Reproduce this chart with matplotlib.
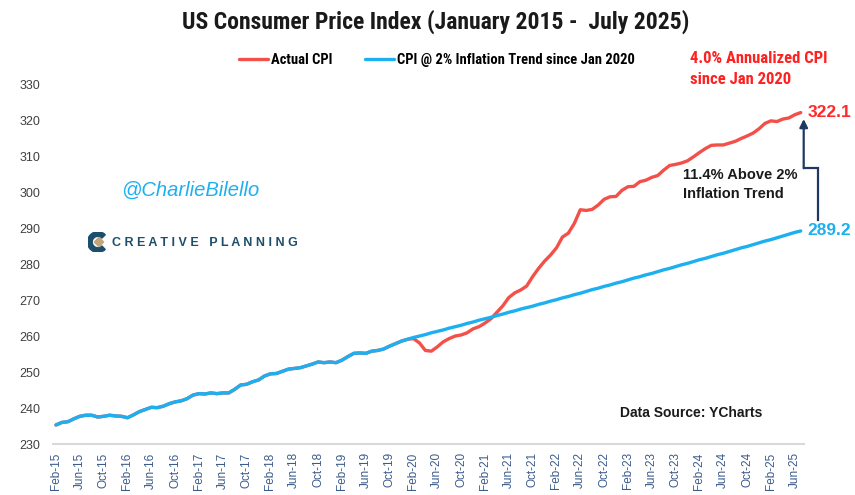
import pandas as pd
import matplotlib

matplotlib.use("Agg")
import matplotlib.pyplot as plt
from matplotlib.patches import Wedge, Polygon

plt.rcParams["font.family"] = ["Liberation Sans", "DejaVu Sans"]
COND = ["Roboto Condensed", "Liberation Sans", "DejaVu Sans"]

# Monthly CPI (seasonally adjusted), Feb 2015 - Jul 2025
actual_cpi = [
    235.3, 236.0, 236.2, 237.0, 237.7, 238.0, 238.0, 237.5, 237.7, 238.0, 237.8,
    237.7, 237.3, 238.1, 239.0, 239.6, 240.2, 240.1, 240.5, 241.2, 241.7, 242.0, 242.6,
    243.6, 244.0, 243.9, 244.2, 244.0, 244.2, 244.2, 245.2, 246.4, 246.6, 247.3, 247.8,
    248.9, 249.5, 249.6, 250.2, 250.8, 251.0, 251.2, 251.7, 252.2, 252.8, 252.6, 252.8,
    252.6, 253.3, 254.3, 255.2, 255.3, 255.2, 255.8, 256.0, 256.4, 257.2, 257.9, 258.6,
    259.1, 259.3, 258.1, 256.0, 255.8, 257.0, 258.4, 259.3, 260.0, 260.3, 260.9, 262.0,
    262.6, 263.6, 264.8, 266.6, 268.4, 270.7, 272.0, 272.8, 273.9, 276.5, 278.8, 280.8,
    282.5, 284.5, 287.5, 288.6, 291.3, 295.1, 294.9, 295.2, 296.4, 298.0, 298.7, 298.8,
    300.5, 301.5, 301.6, 302.9, 303.3, 304.1, 304.6, 306.1, 307.4, 307.7, 308.1, 308.7,
    309.8, 311.0, 312.1, 313.0, 313.1, 313.1, 313.6, 314.1, 314.9, 315.6, 316.4, 317.6,
    319.1, 319.8, 319.6, 320.3, 320.6, 321.5, 322.1,
]

# 2% trend path from Jan 2020 (Feb 2020 - Jul 2025)
trend_after_jan20 = [
    259.6, 260.0, 260.4, 260.9, 261.3, 261.7, 262.2, 262.6, 263.0, 263.5, 263.9, 264.4,
    264.8, 265.2, 265.7, 266.1, 266.6, 267.0, 267.5, 267.9, 268.3, 268.8, 269.2, 269.7,
    270.1, 270.6, 271.0, 271.5, 271.9, 272.4, 272.9, 273.3, 273.8, 274.2, 274.7, 275.1,
    275.6, 276.1, 276.5, 277.0, 277.4, 277.9, 278.4, 278.8, 279.3, 279.8, 280.2, 280.7,
    281.2, 281.6, 282.1, 282.6, 283.0, 283.5, 284.0, 284.5, 284.9, 285.4, 285.9, 286.4,
    286.8, 287.3, 287.8, 288.3, 288.8, 289.2,
]

# trend equals actual CPI up to Jan 2020
trend_cpi = actual_cpi[:60] + trend_after_jan20

months = pd.date_range("2015-02-01", periods=len(actual_cpi), freq="MS")
month_labels = [m.strftime("%b-%y") for m in months]
y_ticks = list(range(230, 331, 10))

RED = "#F4504A"
BLUE = "#1CB0F0"
NAVY = "#1F3864"

fig = plt.figure(figsize=(8.55, 4.95), dpi=100)
ax = fig.add_axes([0.062, 0.103, 0.878, 0.727])

x = list(range(len(actual_cpi)))
ax.plot(x, actual_cpi, color=RED, lw=2.4, label="Actual CPI", solid_capstyle="round")
ax.plot(x, trend_cpi, color=BLUE, lw=2.4, label="CPI @ 2% Inflation Trend since Jan 2020",
        solid_capstyle="round")

ax.set_xlim(-0.5, len(x) - 0.5)
ax.set_ylim(230, 330)
ax.set_yticks(y_ticks)
ax.set_xticks(x[::4])
ax.set_xticklabels(month_labels[::4], rotation=90, fontsize=8.5, color="#3B5B8C")
ax.tick_params(axis="y", labelsize=9, labelcolor="#404040", length=0, pad=9)
ax.tick_params(axis="x", length=0, pad=6)
for s in ["top", "right", "left"]:
    ax.spines[s].set_visible(False)
ax.spines["bottom"].set_color("#D9D9D9")
ax.spines["bottom"].set_linewidth(1.5)

# end labels
ax.annotate(f"{actual_cpi[-1]:.1f}", xy=(x[-1], actual_cpi[-1]), xytext=(5, 0),
            textcoords="offset points", va="center", ha="left", fontsize=12.5,
            fontweight="bold", color="#FF2A2A", annotation_clip=False)
ax.annotate(f"{trend_cpi[-1]:.1f}", xy=(x[-1], trend_cpi[-1]), xytext=(5, 0),
            textcoords="offset points", va="center", ha="left", fontsize=12.5,
            fontweight="bold", color=BLUE, annotation_clip=False)

# gap arrow
x_right = x[-1] + 2.9
x_left = x[-1] + 0.5
y_low = trend_cpi[-1] + 3
y_mid = (trend_cpi[-1] + actual_cpi[-1]) / 2 + 1
y_top = actual_cpi[-1] - 1.8
ax.plot([x_right, x_right, x_left], [y_low, y_mid, y_mid], color=NAVY, lw=1.6,
        clip_on=False, solid_joinstyle="miter")
ax.annotate("", xy=(x_left, y_top), xytext=(x_left, y_mid), annotation_clip=False,
            arrowprops=dict(arrowstyle="-|>", color=NAVY, lw=1.6, mutation_scale=12,
                            shrinkA=0, shrinkB=0))

fig.text(0.509, 0.956, "US Consumer Price Index (January 2015 -  July 2025)", ha="center",
         va="center", fontsize=17, fontweight="bold", color="#1a1a1a", family=COND)

fig.legend(loc="center", bbox_to_anchor=(0.511, 0.879), ncol=2, frameon=False,
           prop={"family": COND, "size": 10.5, "weight": "bold"},
           handlelength=2.0, columnspacing=2.2, handletextpad=0.2)

fig.text(0.807, 0.881, "4.0% Annualized CPI", ha="left", va="center", fontsize=12,
         fontweight="bold", color="#FF2020", family=COND)
fig.text(0.807, 0.840, "since Jan 2020", ha="left", va="center", fontsize=12,
         fontweight="bold", color="#FF2020", family=COND)

fig.text(0.799, 0.627, "11.4% Above 2%\nInflation Trend", ha="left", va="center",
         fontsize=10.5, fontweight="bold", color="#1a1a1a", linespacing=1.5)

fig.text(0.808, 0.166, "Data Source: YCharts", ha="center", va="center", fontsize=10,
         fontweight="bold", color="#1a1a1a")

fig.text(0.223, 0.616, "@CharlieBilello", ha="center", va="center", fontsize=14.5,
         style="italic", color=BLUE)

# Creative Planning logo
lax = fig.add_axes([0.102, 0.49, 0.025, 0.042])
lax.set_xlim(-1, 1)
lax.set_ylim(-1, 1)
lax.set_aspect("equal")
lax.axis("off")
lax.add_patch(Wedge((0, 0), 1.0, 45, 315, width=0.45, color="#1D4E6B"))
lax.add_patch(Polygon([[-0.35, 0], [0.1, 0.45], [0.55, 0], [0.1, -0.45]], closed=True,
                      color="#C4A57A"))
fig.text(0.131, 0.509, "C R E A T I V E   P L A N N I N G", ha="left", va="center",
         fontsize=9, fontweight="bold", color="#1D4E6B")

plt.savefig("out.png", dpi=100)
plt.close()
